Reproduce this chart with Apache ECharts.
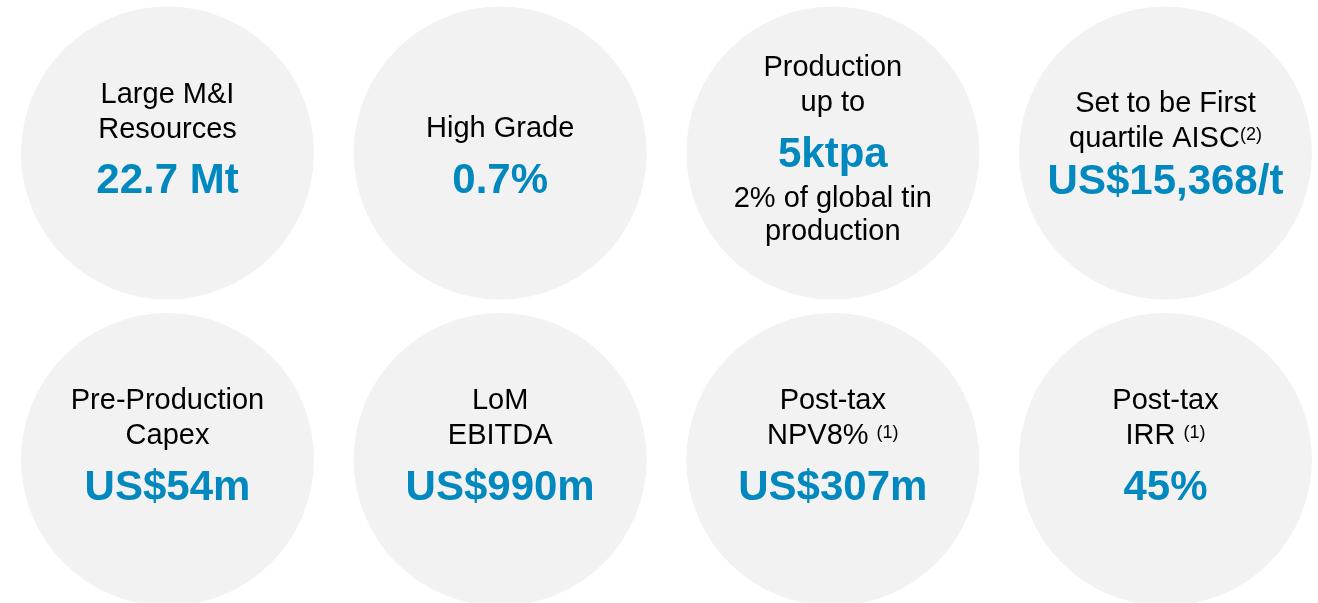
<!DOCTYPE html>
<html>
<head>
<meta charset="utf-8">
<title>Project highlights</title>
<script src="https://cdn.jsdelivr.net/npm/echarts@6/dist/echarts.min.js"></script>
<style>
  html, body { margin: 0; padding: 0; background: #fff; }
  #chart { width: 1318px; height: 603px; }
</style>
</head>
<body>
<div id="chart"></div>
<script>
// grid cells: 4 columns x 2 rows (column / row index of each circle)
const columns = [0, 1, 2, 3]
const rows = [0, 1]

// text of each circle, left to right, top row first
const headlines = [
  ['Large M&I', 'Resources'],
  ['High Grade'],
  ['Production', 'up to'],
  ['Set to be First', 'quartile AISC'],
  ['Pre-Production', 'Capex'],
  ['LoM', 'EBITDA'],
  ['Post-tax', 'NPV8%'],
  ['Post-tax', 'IRR']
]
const notes = ['', '', '', '(2)', '', '', ' (1)', ' (1)']
const figures = ['22.7 Mt', '0.7%', '5ktpa', 'US$15,368/t', 'US$54m', 'US$990m', 'US$307m', '45%']
const footers = [[], [], ['2% of global tin', 'production'], [], [], [], [], []]

// layout tweaks per circle (vertical label shift and style of the big figure)
const labelShift = [-6.1, 10.5, -3.6, -5.9, -6.1, -6.1, -6.1, -6.1]
const figureStyle = ['v', 'v', 'v3', 'v4', 'v', 'v', 'v', 'v']

const BLUE = '#0088bf'
const FONT = '"Liberation Sans", Arial, sans-serif'

const chart = echarts.init(document.getElementById('chart'))

// 构建文字
const buildLabel = (i) => {
  const lines = headlines[i].map((t, k) => {
    let s = '{t|' + t + '}'
    if (k === headlines[i].length - 1 && notes[i]) {
      s = '{t|' + t + (notes[i].startsWith(' ') ? ' ' : '') + '}{s|' + notes[i].trim() + '}'
    }
    return s
  })
  lines.push('{' + figureStyle[i] + '|' + figures[i] + '}')
  footers[i].forEach(f => lines.push('{f|' + f + '}'))
  return lines.join('\n')
}

const points = figures.map((f, i) => ({
  value: [columns[i % 4], rows[Math.floor(i / 4)]],
  label: { offset: [0, labelShift[i]] }
}))

const option = {
  animation: false,
  grid: { left: 0, top: 0, right: 0, bottom: 0 },
  xAxis: { type: 'value', min: -0.5035, max: 3.4585, show: false },
  yAxis: { type: 'value', min: -0.4992, max: 1.4682, inverse: true, show: false },
  series: [
    {
      type: 'scatter',
      symbol: 'circle',
      symbolSize: 293,
      clip: false,
      silent: true,
      emphasis: { disabled: true },
      itemStyle: { color: '#f2f2f2', opacity: 1 },
      label: {
        show: true,
        position: 'inside',
        align: 'center',
        verticalAlign: 'middle',
        textBorderWidth: 0,
        formatter: (p) => buildLabel(p.dataIndex),
        rich: {
          t: { fontFamily: FONT, fontSize: 29, color: '#000', lineHeight: 35 },
          s: { fontFamily: FONT, fontSize: 18, color: '#000', lineHeight: 35, padding: [0, 0, 7, 0] },
          v: { fontFamily: FONT, fontSize: 42, fontWeight: 'bold', color: BLUE, lineHeight: 69 },
          v4: { fontFamily: FONT, fontSize: 42, fontWeight: 'bold', color: BLUE, lineHeight: 52 },
          v3: { fontFamily: FONT, fontSize: 42, fontWeight: 'bold', color: BLUE, lineHeight: 61.6, padding: [7.4, 0, 0, 0] },
          f: { fontFamily: FONT, fontSize: 29, color: '#000', lineHeight: 33 }
        }
      },
      data: points
    }
  ]
}

chart.setOption(option)
</script>
</body>
</html>
